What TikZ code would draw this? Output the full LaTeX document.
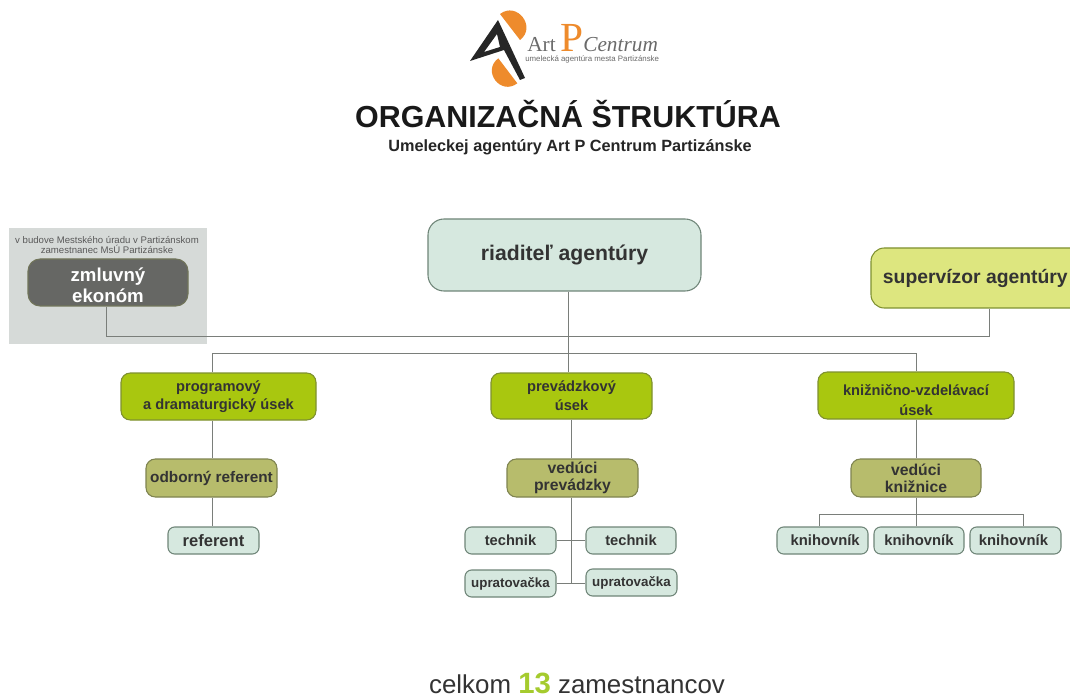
\documentclass[tikz,border=0pt]{standalone}
\usepackage{fontspec}
\setmainfont{Liberation Sans}
\newfontfamily\logoserif{Liberation Serif}
\definecolor{mintfill}{HTML}{D6E8DF}
\definecolor{mintedge}{HTML}{6F8578}
\definecolor{limefill}{HTML}{A9C70F}
\definecolor{limeedge}{HTML}{7F9130}
\definecolor{olivefill}{HTML}{B7BC6C}
\definecolor{oliveedge}{HTML}{7F8450}
\definecolor{paleyellow}{HTML}{DDE67F}
\definecolor{darkbox}{HTML}{666764}
\definecolor{panelgray}{HTML}{D6DAD8}
\definecolor{wire}{HTML}{7A7E7A}
\definecolor{inktext}{HTML}{333333}
\definecolor{logoorange}{HTML}{EE8B2C}
\definecolor{logogray}{HTML}{6A6A6A}
\definecolor{numgreen}{HTML}{A5CB2E}
\newcommand{\fs}[1]{\fontsize{#1}{#1}\selectfont\baselineskip=1.18\baselineskip\relax}
\newcommand{\bx}[7]{\node[#6, font=\bfseries\fs{#7}, minimum width={(#4-#2)*0.75pt}, minimum height={(#5-#3)*0.75pt}] (#1) at ({(#2+#4)/2},{(#3+#5)/2})}
\tikzset{
  x=0.75pt, y=-0.75pt,
  basebox/.style={rounded corners=7pt, inner sep=0pt, align=center, line width=0.8pt, text=inktext},
  topbox/.style={basebox, rounded corners=12pt, fill=mintfill, draw=mintedge},
  supbox/.style={basebox, rounded corners=10pt, fill=paleyellow, draw=limeedge},
  ecobox/.style={basebox, rounded corners=9pt, fill=darkbox, draw=oliveedge!50!darkbox, text=white},
  secbox/.style={basebox, fill=limefill, draw=limeedge},
  midbox/.style={basebox, fill=olivefill, draw=oliveedge},
  lowbox/.style={basebox, rounded corners=5pt, fill=mintfill, draw=mintedge},
  wireline/.style={draw=wire, line width=0.7pt},
  freetext/.style={inner sep=0pt, align=center},
}
\begin{document}
\begin{tikzpicture}
\clip (0,0) rectangle (1070,698);
\fill[white] (0,0) rectangle (1070,698);
% logo
\fill[logoorange] (500,14) .. controls (517,1) and (537,27) .. (520,40) -- cycle;
\fill[logoorange] (498.3,58.3) .. controls (481.6,71) and (500.6,96) .. (517.3,83.3) -- cycle;
\fill[black!85, even odd rule] (498,20) -- (525,78) -- (520,80) -- (504,50) -- (470,61) -- cycle (497,34) -- (484,52) -- (500,47) -- cycle;
\node[freetext, anchor=base west, text=logogray] (logoart) at (527,52) {\logoserif\fs{16}Art};
\node[freetext, anchor=base west, text=logoorange] (logop) at (560,52) {\logoserif\fs{31}P};
\node[freetext, anchor=base west, text=logogray] (logocentrum) at (583,52) {\logoserif\itshape\fs{16}Centrum};
\node[freetext, anchor=base west, text=logogray] (logosub) at (525,62) {\fs{5.9}umelecká agentúra mesta Partizánske};
% headings
\node[freetext, text=black!90] (title) at (568,114) {\bfseries\fs{22.8}ORGANIZAČNÁ ŠTRUKTÚRA};
\node[freetext, text=black!85] (subtitle) at (570,147.5) {\bfseries\fs{12.2}Umeleckej agentúry Art P Centrum Partizánske};
% panel
\fill[panelgray] (9,228) rectangle (207,344);
\node[freetext, text=black!65, font=\fs{7.2}] (note) at (107,245) {v budove Mestského úradu v Partizánskom\\[-1pt]zamestnanec MsÚ Partizánske};
% boxes
\bx{dir}{428}{219}{701}{291}{topbox}{15.9} {riaditeľ agentúry};
\bx{sup}{871}{248}{1085}{308}{supbox}{14} {};
\node[freetext, text=inktext, anchor=east] (suptext) at (1068,278) {\bfseries\fs{14.5}supervízor agentúry};
\bx{eco}{28}{259}{188}{306}{ecobox}{14} {};
\node[freetext, text=white, font=\bfseries\fs{14}] (ecotext) at (108,285) {zmluvný\\[-1pt]ekonóm};
\bx{prog}{121}{373}{316}{420}{secbox}{11} {programový\\[1pt]a dramaturgický úsek};
\bx{prev}{491}{373}{652}{419}{secbox}{11} {prevádzkový\\[1pt]úsek};
\bx{kniz}{818}{372}{1014}{419}{secbox}{11} {};
\node[freetext, text=inktext, font=\bfseries\fs{11}] (kniztext) at (916,400) {knižnično-vzdelávací\\[2pt]úsek};
\bx{odb}{146}{459}{277}{497}{midbox}{11.5} {odborný referent};
\bx{vedp}{507}{459}{638}{497}{midbox}{11.8} {vedúci\\[-1pt]prevádzky};
\bx{vedk}{851}{459}{981}{497}{midbox}{11.8} {vedúci\\[-1pt]knižnice};
\bx{ref}{168}{527}{259}{554}{lowbox}{12.4} {referent};
\bx{tech1}{465}{527}{556}{554}{lowbox}{11} {technik};
\bx{tech2}{586}{527}{676}{554}{lowbox}{11} {technik};
\bx{upr1}{465}{570}{556}{597}{lowbox}{10} {upratovačka};
\bx{upr2}{586}{569}{677}{596}{lowbox}{10} {upratovačka};
\bx{kn1}{777}{527}{868}{554}{lowbox}{11.1} {\hspace*{4pt}\raisebox{-1pt}{knihovník}};
\bx{kn2}{874}{527}{964}{554}{lowbox}{11.1} {knihovník};
\bx{kn3}{970}{527}{1061}{554}{lowbox}{11.1} {\raisebox{1pt}{knihovník}\hspace*{3pt}};
% junction coordinates
\coordinate (jtop) at (568,353);
\coordinate (jl) at (212,353);
\coordinate (jr) at (916,353);
\coordinate (jeco) at (106,336);
\coordinate (jsup) at (989,336);
\coordinate (jmid) at (571,540);
\coordinate (jlow) at (571,583);
\coordinate (jk) at (916,514);
\coordinate (jkl) at (819,514);
\coordinate (jkr) at (1023,514);
% connectors
\draw[wireline] (dir.south -| jtop) -- (prev.north -| jtop);
\draw[wireline] (eco.south -| jeco) -- (jeco) -- (jsup) -- (sup.south -| jsup);
\draw[wireline] (prog.north -| jl) -- (jl) -- (jr) -- (kniz.north -| jr);
\draw[wireline] (prog.south -| jl) -- (odb.north -| jl);
\draw[wireline] (odb.south -| jl) -- (ref.north -| jl);
\draw[wireline] (prev.south -| jmid) -- (vedp.north -| jmid);
\draw[wireline] (vedp.south -| jmid) -- (jlow);
\draw[wireline] (tech1.east) -- (tech2.west);
\draw[wireline] (upr1.east |- jlow) -- (upr2.west |- jlow);
\draw[wireline] (kniz.south -| jk) -- (vedk.north -| jk);
\draw[wireline] (vedk.south -| jk) -- (kn2.north -| jk);
\draw[wireline] (kn1.north -| jkl) -- (jkl) -- (jkr) -- (kn3.north -| jkr);
% footer
\node[freetext, text=black!80, anchor=base] (footer) at (577,693) {\fs{19.4}celkom {\bfseries\fs{22}\textcolor{numgreen}{13}} zamestnancov};
\end{tikzpicture}
\end{document}
